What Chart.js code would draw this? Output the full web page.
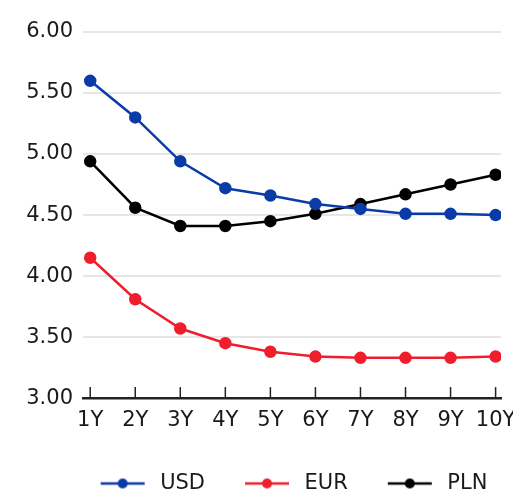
<!DOCTYPE html>
<html>
<head>
<meta charset="utf-8">
<script src="https://cdn.jsdelivr.net/npm/chart.js@4.4.0/dist/chart.umd.min.js"></script>
<style>
  html, body { margin: 0; padding: 0; overflow: hidden; background: #fff; }
</style>
</head>
<body>
<canvas id="yield-curve" width="513" height="504"></canvas>
<script>
const tenors = ['1Y', '2Y', '3Y', '4Y', '5Y', '6Y', '7Y', '8Y', '9Y', '10Y'];
const usd = [5.60, 5.30, 4.94, 4.72, 4.66, 4.59, 4.55, 4.51, 4.51, 4.50];
const eur = [4.15, 3.81, 3.57, 3.45, 3.38, 3.34, 3.33, 3.33, 3.33, 3.34];
const pln = [4.94, 4.56, 4.41, 4.41, 4.45, 4.51, 4.59, 4.67, 4.75, 4.83];

const colors = { USD: '#0a3ca8', EUR: '#f01e2c', PLN: '#000000' };

Chart.defaults.font.family = 'DejaVu Sans';
Chart.defaults.font.size = 21;
Chart.defaults.color = '#1a1a1a';

// legend swatch: short line with a dot, with some blank room on the left
const ICON_LEFT = 32;
function legendIcon(color) {
  const c = document.createElement('canvas');
  c.width = ICON_LEFT + 44 + 5; c.height = 12;
  const g = c.getContext('2d');
  g.strokeStyle = color; g.lineWidth = 2.5;
  g.beginPath(); g.moveTo(ICON_LEFT, 6); g.lineTo(ICON_LEFT + 44, 6); g.stroke();
  g.fillStyle = color;
  g.beginPath(); g.arc(ICON_LEFT + 22, 6, 5, 0, Math.PI * 2); g.fill();
  return c;
}

function series(label, values) {
  return {
    label: label,
    data: values.map((v, i) => ({ x: i + 1, y: v })),
    borderColor: colors[label],
    backgroundColor: colors[label],
    borderWidth: 2.5,
    pointRadius: 5,
    pointHoverRadius: 5,
    tension: 0,
    fill: false
  };
}

// small upward tick marks on the x axis
const tickMarks = {
  id: 'tickMarks',
  beforeDatasetsDraw(chart) {
    const x = chart.scales.x;
    const ctx = chart.ctx;
    const bottom = chart.chartArea.bottom;
    ctx.save();
    ctx.strokeStyle = '#222';
    ctx.lineWidth = 1.5;
    x.ticks.forEach((t, i) => {
      const px = x.getPixelForTick(i);
      ctx.beginPath();
      ctx.moveTo(px, bottom);
      ctx.lineTo(px, bottom - 11);
      ctx.stroke();
    });
    ctx.restore();
  }
};

// legend row is centred under the plot, not under the whole canvas
const LEGEND_LEFT = 55;
const legendShift = {
  id: 'legendShift',
  afterLayout(chart) {
    const lg = chart.legend;
    lg.left = LEGEND_LEFT;
    lg.width = lg.right - lg.left;
  }
};

const ctx = document.getElementById('yield-curve');
new Chart(ctx, {
  type: 'line',
  data: {
    datasets: [series('USD', usd), series('EUR', eur), series('PLN', pln)]
  },
  options: {
    responsive: false,
    animation: false,
    layout: { padding: { top: 32, right: 12, left: 0, bottom: 0 } },
    scales: {
      x: {
        type: 'linear',
        min: 0.84,
        max: 10.12,
        grid: { display: false, drawTicks: false },
        border: { display: true, color: '#222', width: 2.5 },
        ticks: {
          stepSize: 1,
          includeBounds: false,
          padding: 10,
          maxRotation: 0,
          autoSkip: false,
          callback: (v) => tenors[v - 1]
        },
        afterFit(scale) {
          scale.paddingLeft = 0;
          scale.paddingRight = 0;
          scale.height += 21.7;
        }
      },
      y: {
        min: 3,
        max: 6,
        grid: { color: '#e6e6e6', lineWidth: 2, drawTicks: false },
        border: { display: false },
        ticks: {
          stepSize: 0.5,
          padding: 10,
          callback: (v) => v.toFixed(2)
        },
        afterFit(scale) { scale.width = 83; }
      }
    },
    plugins: {
      legend: {
        position: 'bottom',
        labels: {
          usePointStyle: true,
          pointStyleWidth: ICON_LEFT + 44 + 5,
          boxHeight: 12,
          padding: 8,
          generateLabels(chart) {
            return Chart.defaults.plugins.legend.labels.generateLabels(chart).map(l => {
              l.pointStyle = legendIcon(colors[l.text]);
              return l;
            });
          }
        }
      },
      tooltip: { enabled: false }
    }
  },
  plugins: [tickMarks, legendShift]
});
</script>
</body>
</html>
